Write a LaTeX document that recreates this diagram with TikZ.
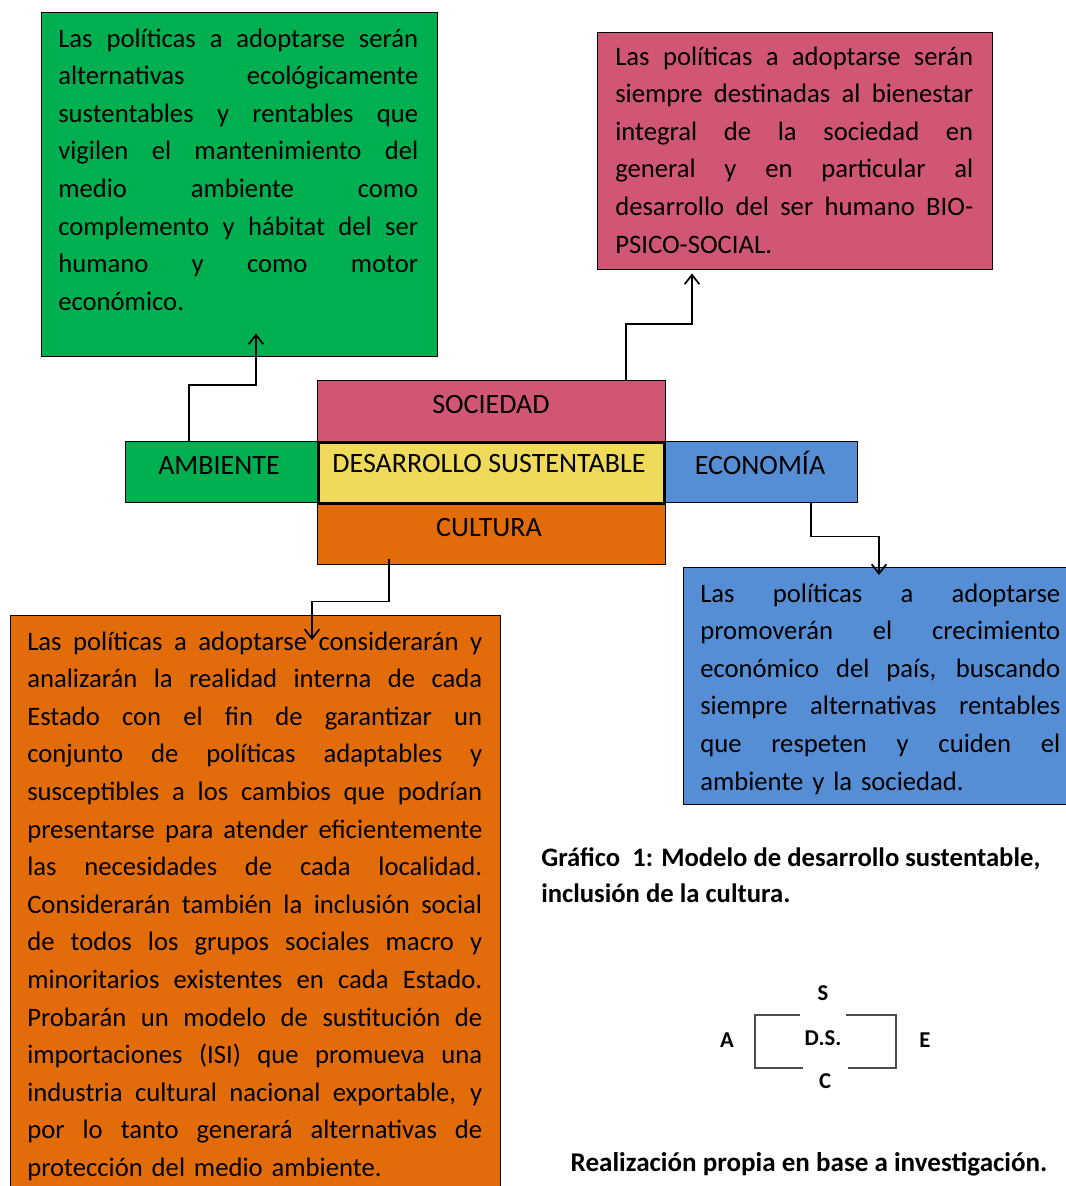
\documentclass[tikz,border=0pt]{standalone}
\usepackage{fontspec}
\setmainfont{Carlito}
\usetikzlibrary{calc,arrows.meta}

\definecolor{verde}{RGB}{0,176,80}
\definecolor{rosa}{RGB}{208,86,116}
\definecolor{naranja}{RGB}{227,108,10}
\definecolor{azul}{RGB}{85,142,213}
\definecolor{amarillo}{RGB}{240,218,92}

\newcommand{\pxu}{0.75pt}
\newcommand{\ancho}{270pt}
% justified line of a text box
\newcommand{\renglon}[1]{\hbox to\ancho{\spaceskip=\fontdimen2\font plus 1fil minus \fontdimen4\font\relax #1}}

\begin{document}
\begin{tikzpicture}[x=0.75pt,y=-0.75pt,
	caja/.style={draw=black,line width=1.1pt,inner sep=0pt,anchor=north west},
	texto/.style={inner sep=0pt,anchor=base west,text width=\ancho,font=\fontsize{20}{28.2}\selectfont},
	rotulo/.style={anchor=base,inner sep=0pt,font=\fontsize{21}{24}\selectfont},
	flecha/.style={line width=1.3pt,-{Straight Barb[length=7pt,width=11pt]}},
	corchete/.style={draw=black!70,line width=1.6pt},
	letra/.style={font=\bfseries\fontsize{17}{20}\selectfont,inner sep=1pt}]
	\useasboundingbox (0,0) rectangle (1066,1186);
	
	%upper text boxes
	\node[caja,fill=verde,minimum width=396*\pxu,minimum height=344*\pxu] (verde) at (41,12) {};
	\renewcommand{\ancho}{270pt}
	\node[texto] (tverde) at (58,47) {%
		\renglon{Las políticas a adoptarse serán}
		\renglon{alternativas ecológicamente}
		\renglon{sustentables y rentables que}
		\renglon{vigilen el mantenimiento del}
		\renglon{medio ambiente como}
		\renglon{complemento y hábitat del ser}
		\renglon{humano y como motor}
		\hbox{económico.}};
	
	\node[caja,fill=rosa,minimum width=395*\pxu,minimum height=237*\pxu] (rosa) at (597,32) {};
	\renewcommand{\ancho}{268.5pt}
	\node[texto] (trosa) at (615,65) {%
		\renglon{Las políticas a adoptarse serán}
		\renglon{siempre destinadas al bienestar}
		\renglon{integral de la sociedad en}
		\renglon{general y en particular al}
		\renglon{desarrollo del ser humano BIO-}
		\hbox{PSICO-SOCIAL.}};
	
	%central model
	\node[caja,fill=rosa,minimum width=348*\pxu,minimum height=61*\pxu] (soc) at (317,380) {};
	\node[rotulo] (tsoc) at (491,413) {SOCIEDAD};
	\node[caja,fill=verde,minimum width=192*\pxu,minimum height=61*\pxu] (amb) at (125,441) {};
	\node[rotulo] (tamb) at (219,474) {AMBIENTE};
	\node[caja,fill=azul,minimum width=192*\pxu,minimum height=61*\pxu] (eco) at (665,441) {};
	\node[rotulo] (teco) at (760,474) {ECONOMÍA};
	\node[caja,fill=naranja,minimum width=348*\pxu,minimum height=62*\pxu] (cul) at (317,502) {};
	\node[rotulo] (tcul) at (489,536) {CULTURA};
	\node[caja,fill=amarillo,line width=2pt,minimum width=346*\pxu,minimum height=61*\pxu] (ds) at (317,441) {};
	\node[rotulo] (tds) at (489,472) {DESARROLLO SUSTENTABLE};
	
	%lower text boxes
	\node[caja,fill=naranja,minimum width=490*\pxu,minimum height=580*\pxu] (naranja) at (10,615) {};
	\renewcommand{\ancho}{341.25pt}
	\node[texto] (tnaranja) at (27,650) {%
		\renglon{Las políticas a adoptarse considerarán y}
		\renglon{analizarán la realidad interna de cada}
		\renglon{Estado con el fin de garantizar un}
		\renglon{conjunto de políticas adaptables y}
		\renglon{susceptibles a los cambios que podrían}
		\renglon{presentarse para atender eficientemente}
		\renglon{las necesidades de cada localidad.}
		\renglon{Considerarán también la inclusión social}
		\renglon{de todos los grupos sociales macro y}
		\renglon{minoritarios existentes en cada Estado.}
		\renglon{Probarán un modelo de sustitución de}
		\renglon{importaciones (ISI) que promueva una}
		\renglon{industria cultural nacional exportable, y}
		\renglon{por lo tanto generará alternativas de}
		\hbox{protección del medio ambiente.}};
	
	\node[caja,fill=azul,minimum width=390*\pxu,minimum height=237*\pxu] (azul) at (683,567) {};
	\renewcommand{\ancho}{270pt}
	\node[texto] (tazul) at (700,602) {%
		\renglon{Las políticas a adoptarse}
		\renglon{promoverán el crecimiento}
		\renglon{económico del país, buscando}
		\renglon{siempre alternativas rentables}
		\renglon{que respeten y cuiden el}
		\hbox{ambiente y la sociedad.}};
	
	%connectors
	\draw[flecha] ($(amb.north west)+(64,0)$) -- ++(0,-56) -| ($(verde.south west)+(215,-24)$);
	\draw[flecha] ($(soc.north west)+(309,0)$) -- ++(0,-56) -| ($(rosa.south west)+(95,3)$);
	\draw[flecha] ($(cul.south west)+(72,-6)$) -- ++(0,42) -| ($(naranja.north west)+(302,25)$);
	\draw[flecha] ($(eco.south west)+(146,0)$) -- ++(0,33) -| ($(azul.north west)+(196,8)$);
	
	%caption
	\node[inner sep=0pt,anchor=base west,align=left,font=\bfseries\fontsize{20}{27}\selectfont] (titulo) at (541,902)
	{Gráfico~~1: Modelo de desarrollo sustentable,\\inclusión de la cultura.};
	
	%small scheme
	\node[letra] (s) at (823,993) {S};
	\node[letra] (a) at (727,1040) {A};
	\node[letra] (d) at (823,1038) {D.S.};
	\node[letra] (e) at (925,1040) {E};
	\node[letra] (c) at (825,1081) {C};
	\draw[corchete] (800,1015) -| (755,1068) -- (803,1068);
	\draw[corchete] (846,1015) -| (896,1068) -- (848,1068);
	
	\node[inner sep=0pt,anchor=base,font=\bfseries\fontsize{20.3}{24}\selectfont] (fuente) at (809,1171)
	{Realización propia en base a investigación.};
\end{tikzpicture}
\end{document}
